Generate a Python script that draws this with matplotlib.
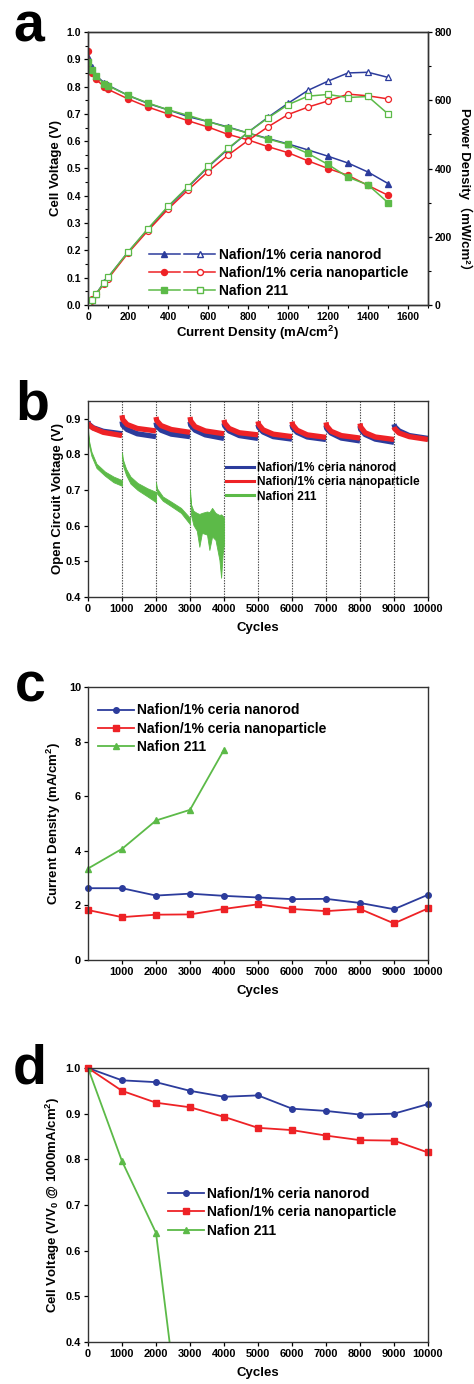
import numpy as np
import matplotlib
matplotlib.use('Agg')
import matplotlib.pyplot as plt
from matplotlib.lines import Line2D
from matplotlib.legend_handler import HandlerTuple
from matplotlib.ticker import MultipleLocator

plt.rcParams['font.family'] = ['Liberation Sans', 'Noto Sans CJK SC', 'DejaVu Sans']
plt.rcParams['font.weight'] = 'bold'
plt.rcParams['axes.labelweight'] = 'bold'
plt.rcParams['mathtext.fontset'] = 'custom'
plt.rcParams['mathtext.rm'] = 'Liberation Sans:bold'
plt.rcParams['mathtext.it'] = 'Liberation Sans:bold'
plt.rcParams['mathtext.bf'] = 'Liberation Sans:bold'
plt.rcParams['mathtext.default'] = 'rm'
plt.rcParams['xtick.direction'] = 'out'
plt.rcParams['ytick.direction'] = 'out'

BLUE = '#2c3c9c'
RED = '#ee2226'
GREEN = '#5cba48'

labels = ['Nafion/1% ceria nanorod', 'Nafion/1% ceria nanoparticle', 'Nafion 211']

# ---- panel a: polarisation / power density
rod_j = [0, 20, 40, 80, 100, 200, 300, 400, 500, 600, 700, 800, 900, 1000, 1100, 1200, 1300, 1400, 1500]
rod_v = [0.91, 0.87, 0.84, 0.815, 0.805, 0.768, 0.738, 0.715, 0.69, 0.672, 0.652, 0.63, 0.61, 0.59,
         0.568, 0.545, 0.52, 0.487, 0.445]
rod_p = [0, 15, 32, 66, 81, 155, 222, 287, 345, 404, 457, 506, 550, 591, 629, 656, 680, 682, 667]

part_j = [0, 10, 20, 40, 80, 100, 200, 300, 400, 500, 600, 700, 800, 900, 1000, 1100, 1200, 1300, 1400, 1500]
part_v = [0.93, 0.86, 0.848, 0.827, 0.80, 0.79, 0.755, 0.725, 0.70, 0.675, 0.652, 0.625, 0.605, 0.58,
          0.558, 0.528, 0.50, 0.475, 0.438, 0.402]
part_p = [0, 9, 17, 31, 62, 77, 152, 218, 281, 337, 391, 439, 482, 522, 558, 580, 598, 618, 613, 604]

naf_j = [0, 20, 40, 80, 100, 200, 300, 400, 500, 600, 700, 800, 900, 1000, 1100, 1200, 1300, 1400, 1500]
naf_v = [0.89, 0.86, 0.84, 0.81, 0.803, 0.768, 0.74, 0.715, 0.695, 0.672, 0.65, 0.63, 0.608, 0.588,
         0.555, 0.515, 0.468, 0.44, 0.375]
naf_p = [0, 16, 33, 64, 81, 155, 224, 289, 347, 406, 459, 506, 548, 587, 612, 617, 608, 611, 560]

# ---- panel b: OCV during cycling (per 1000-cycle block, values at block offsets)
ocv_offsets = [0, 20, 150, 450, 1000]
ocv_rod = [
    [0.893, 0.885, 0.875, 0.865, 0.858],
    [0.893, 0.882, 0.870, 0.858, 0.850],
    [0.890, 0.880, 0.868, 0.857, 0.850],
    [0.892, 0.882, 0.868, 0.855, 0.845],
    [0.888, 0.880, 0.866, 0.853, 0.845],
    [0.884, 0.876, 0.863, 0.850, 0.843],
    [0.884, 0.875, 0.862, 0.849, 0.842],
    [0.882, 0.873, 0.860, 0.846, 0.838],
    [0.880, 0.870, 0.856, 0.843, 0.834],
    [0.885, 0.878, 0.866, 0.853, 0.845],
]
ocv_part = [
    [0.890, 0.883, 0.874, 0.862, 0.853],
    [0.910, 0.898, 0.884, 0.873, 0.866],
    [0.905, 0.895, 0.881, 0.870, 0.862],
    [0.905, 0.894, 0.878, 0.866, 0.858],
    [0.897, 0.888, 0.873, 0.861, 0.855],
    [0.893, 0.884, 0.869, 0.857, 0.850],
    [0.892, 0.883, 0.868, 0.855, 0.848],
    [0.890, 0.880, 0.865, 0.853, 0.846],
    [0.887, 0.877, 0.861, 0.849, 0.842],
    [0.877, 0.872, 0.860, 0.850, 0.842],
]
# Nafion 211: upper / lower envelope of the noisy trace
naf_ocv_x = [
    [0, 30, 100, 250, 500, 750, 1000],
    [1000, 1030, 1120, 1250, 1460, 1750, 2000],
    [2000, 2030, 2200, 2440, 2735, 3000],
    [3000, 3030, 3100, 3200, 3275, 3350, 3500, 3570, 3650, 3750, 3865, 3915, 3960, 4000],
]
naf_ocv_hi = [
    [0.870, 0.838, 0.808, 0.774, 0.752, 0.738, 0.728],
    [0.805, 0.785, 0.760, 0.738, 0.720, 0.705, 0.695],
    [0.722, 0.705, 0.682, 0.668, 0.650, 0.622],
    [0.700, 0.660, 0.642, 0.636, 0.633, 0.636, 0.640, 0.638, 0.650, 0.636, 0.630, 0.632, 0.628, 0.622],
]
naf_ocv_lo = [
    [0.860, 0.826, 0.796, 0.762, 0.740, 0.722, 0.712],
    [0.792, 0.768, 0.742, 0.718, 0.700, 0.682, 0.666],
    [0.712, 0.690, 0.670, 0.655, 0.636, 0.604],
    [0.690, 0.630, 0.602, 0.586, 0.541, 0.580, 0.575, 0.532, 0.570, 0.560, 0.504, 0.454, 0.520, 0.550],
]

# ---- panel c: hydrogen crossover current density
cyc = [0, 1000, 2000, 3000, 4000, 5000, 6000, 7000, 8000, 9000, 10000]
cross_rod = [2.63, 2.63, 2.36, 2.43, 2.35, 2.29, 2.23, 2.24, 2.09, 1.86, 2.39]
cross_part = [1.83, 1.57, 1.66, 1.67, 1.87, 2.04, 1.87, 1.79, 1.87, 1.34, 1.89]
cyc_naf = [0, 1000, 2000, 3000, 4000]
cross_naf = [3.35, 4.07, 5.11, 5.50, 7.70]

# ---- panel d: normalised cell voltage at 1000 mA/cm2
norm_rod = [1.0, 0.973, 0.969, 0.950, 0.937, 0.940, 0.911, 0.906, 0.898, 0.900, 0.921]
norm_part = [1.0, 0.950, 0.924, 0.914, 0.893, 0.869, 0.864, 0.852, 0.842, 0.841, 0.815]
cyc_naf_d = [0, 1000, 2000, 3000]
norm_naf = [1.0, 0.796, 0.639, 0.04]

W, H = 474, 1384
fig = plt.figure(figsize=(W / 100, H / 100), dpi=100)


def box(top, bottom, left=88, right=428):
    return [left / W, 1 - bottom / H, (right - left) / W, (bottom - top) / H]


def style(ax, size=7.5):
    for s in ax.spines.values():
        s.set_linewidth(1.0)
        s.set_color('#333333')
    ax.tick_params(labelsize=size, length=3, width=0.9, pad=2)
    for t in ax.get_xticklabels() + ax.get_yticklabels():
        t.set_fontweight('bold')


LAB = 9.5
LEG = 10

# ---------------- a
ax = fig.add_axes(box(32, 305))
ax2 = ax.twinx()
ms = 4.3
for j, v, p, c, m in [(rod_j, rod_v, rod_p, BLUE, '^'), (part_j, part_v, part_p, RED, 'o'),
                      (naf_j, naf_v, naf_p, GREEN, 's')]:
    ax.plot(j, v, color=c, marker=m, ms=ms, lw=1.1, mfc=c, mec=c)
    ax2.plot(j, p, color=c, marker=m, ms=ms, lw=1.1, mfc='white', mec=c, mew=0.9)
ax.set_xlim(0, 1700)
ax.set_ylim(0, 1.0)
ax2.set_ylim(0, 800)
ax.xaxis.set_major_locator(MultipleLocator(200))
ax.xaxis.set_minor_locator(MultipleLocator(100))
ax.yaxis.set_major_locator(MultipleLocator(0.1))
ax.yaxis.set_minor_locator(MultipleLocator(0.05))
ax2.yaxis.set_major_locator(MultipleLocator(200))
ax2.yaxis.set_minor_locator(MultipleLocator(100))
ax.yaxis.set_major_formatter(matplotlib.ticker.FormatStrFormatter('%.1f'))
ax.set_xlabel('Current Density (mA/cm$^2$)', fontsize=LAB, labelpad=1)
ax.set_ylabel('Cell Voltage (V)', fontsize=LAB, labelpad=3)
fig.text(465 / W, 1 - 192 / H, 'Power Density\uff08mW/cm\u00b2\uff09', fontsize=LAB, fontweight='bold',
         rotation=270, ha='center', va='center')
style(ax)
style(ax2)
ax.tick_params(which='minor', length=2, width=0.8)
ax2.tick_params(which='minor', length=2, width=0.8)
handles = []
for c, m in [(BLUE, '^'), (RED, 'o'), (GREEN, 's')]:
    h1 = Line2D([], [], color=c, marker=m, ms=ms, lw=1.1, mfc=c, mec=c)
    h2 = Line2D([], [], color=c, marker=m, ms=ms, lw=1.1, mfc='white', mec=c)
    handles.append((h1, h2))
ax.legend(handles, labels, handler_map={tuple: HandlerTuple(ndivide=None, pad=0.3)},
          loc='upper left', bbox_to_anchor=(0.178, 0.21), frameon=False, fontsize=LEG,
          handlelength=4.8, handletextpad=0.3, labelspacing=0.3, borderaxespad=0, borderpad=0)
fig.text(13 / W, 1 - 42 / H, 'a', fontsize=40, fontweight='bold', ha='left', va='baseline')

# ---------------- b
ax = fig.add_axes(box(401, 597))
for blk in range(10):
    x = [blk * 1000 + o for o in ocv_offsets]
    ax.plot(x, ocv_rod[blk], color=BLUE, lw=3.8, solid_capstyle='butt')
    ax.plot(x, ocv_part[blk], color=RED, lw=3.8, solid_capstyle='butt')
for x, hi, lo in zip(naf_ocv_x, naf_ocv_hi, naf_ocv_lo):
    ax.fill_between(x, lo, hi, color=GREEN, lw=0.6, ec=GREEN)
for xv in range(1000, 10000, 1000):
    ax.axvline(xv, color='#444444', ls=(0, (1.2, 1.2)), lw=0.8, zorder=0)
ax.set_xlim(0, 10000)
ax.set_ylim(0.4, 0.95)
ax.set_xticks(range(0, 10001, 1000))
ax.set_yticks([0.4, 0.5, 0.6, 0.7, 0.8, 0.9])
ax.set_xlabel('Cycles', fontsize=LAB, labelpad=6)
ax.set_ylabel('Open Circuit Voltage (V)', fontsize=LAB, labelpad=1)
style(ax, 7.9)
hb = [Line2D([], [], color=c, lw=2.2) for c in (BLUE, RED, GREEN)]
ax.legend(hb, labels, loc='upper left', bbox_to_anchor=(0.405, 0.69), frameon=False, fontsize=8.6,
          handlelength=2.4, handletextpad=0.2, labelspacing=0.2, borderaxespad=0, borderpad=0)
fig.text(15 / W, 1 - 420 / H, 'b', fontsize=40, fontweight='bold', ha='left', va='baseline')

# ---------------- c
ax = fig.add_axes(box(687, 960))
ax.plot(cyc, cross_rod, color=BLUE, marker='o', ms=4, lw=1.3, clip_on=False)
ax.plot(cyc, cross_part, color=RED, marker='s', ms=4, lw=1.3, clip_on=False)
ax.plot(cyc_naf, cross_naf, color=GREEN, marker='^', ms=4.5, lw=1.3, clip_on=False)
ax.set_xlim(0, 10000)
ax.set_ylim(0, 10)
ax.set_xticks(range(1000, 10001, 1000))
ax.set_yticks(range(0, 11, 2))
ax.set_xlabel('Cycles', fontsize=LAB, labelpad=6)
ax.set_ylabel('Current Density (mA/cm$^2$)', fontsize=LAB, labelpad=4)
style(ax, 7.9)
hc = [Line2D([], [], color=c, marker=m, ms=4, lw=1.3) for c, m in [(BLUE, 'o'), (RED, 's'), (GREEN, '^')]]
ax.legend(hc, labels, loc='upper left', bbox_to_anchor=(0.03, 0.94), frameon=False, fontsize=LEG,
          handlelength=2.6, handletextpad=0.2, labelspacing=0.3, borderaxespad=0, borderpad=0)
fig.text(15 / W, 1 - 702 / H, 'c', fontsize=40, fontweight='bold', ha='left', va='baseline')

# ---------------- d
ax = fig.add_axes(box(1068, 1342))
ax.plot(cyc, norm_rod, color=BLUE, marker='o', ms=4, lw=1.3, clip_on=False)
ax.plot(cyc, norm_part, color=RED, marker='s', ms=4, lw=1.3, clip_on=False)
ax.plot(cyc_naf_d, norm_naf, color=GREEN, marker='^', ms=4.5, lw=1.3)
ax.set_xlim(0, 10000)
ax.set_ylim(0.4, 1.0)
ax.set_xticks(range(0, 10001, 1000))
ax.set_yticks([0.4, 0.5, 0.6, 0.7, 0.8, 0.9, 1.0])
ax.yaxis.set_major_formatter(matplotlib.ticker.FormatStrFormatter('%.1f'))
ax.set_xlabel('Cycles', fontsize=LAB, labelpad=6)
ax.set_ylabel('Cell Voltage (V/V$_0$ @ 1000mA/cm$^2$)', fontsize=LAB, labelpad=3)
style(ax, 7.9)
ax.legend(hc, labels, loc='upper left', bbox_to_anchor=(0.235, 0.565), frameon=False, fontsize=LEG,
          handlelength=2.6, handletextpad=0.2, labelspacing=0.3, borderaxespad=0, borderpad=0)
fig.text(13 / W, 1 - 1083 / H, 'd', fontsize=40, fontweight='bold', ha='left', va='baseline')

fig.savefig('out.png', dpi=100)
